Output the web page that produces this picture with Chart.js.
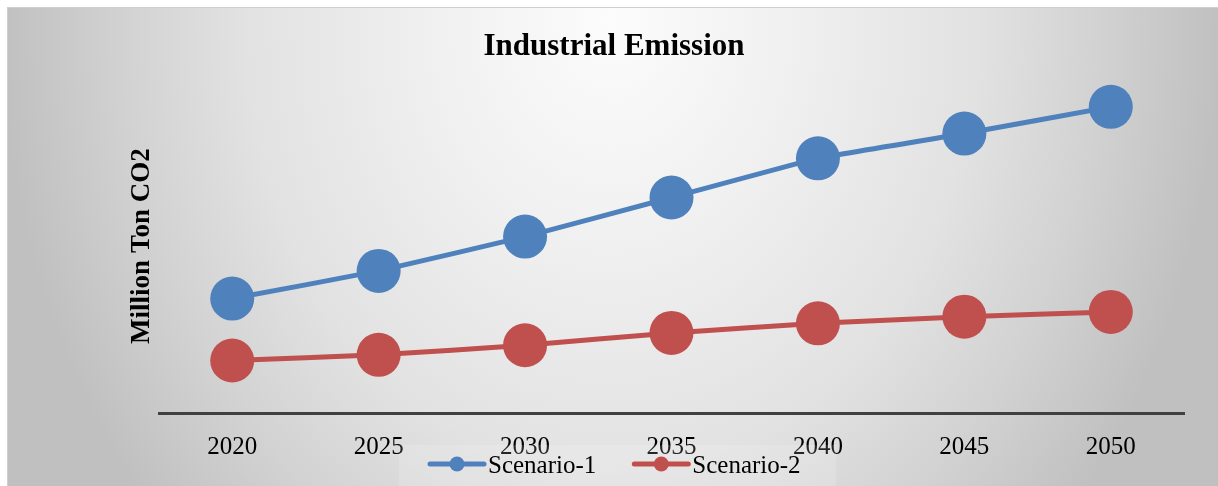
<!DOCTYPE html>
<html>
<head>
<meta charset="utf-8">
<script src="https://cdn.jsdelivr.net/npm/chart.js@4.4.1/dist/chart.umd.min.js"></script>
<style>
  html, body { margin: 0; padding: 0; background: #ffffff; width: 1218px; height: 486px; overflow: hidden; }
  #box {
    position: absolute; left: 7px; top: 7px; width: 1211px; height: 479px;
    border-top: 1px solid #cfcfcf; border-left: 1px solid #cfcfcf; box-sizing: border-box;
    background: radial-gradient(ellipse 610px 750px at 603px 13px, #fcfcfc 0%, #f0f0f0 30%, #e2e2e2 60%, #d2d2d2 80%, #c0c0c0 100%);
  }
  #c { position: absolute; left: -1px; top: -1px; }
</style>
</head>
<body>
<div id="box"><canvas id="c" width="1211" height="479"></canvas></div>
<script>
const categories = ['2020', '2025', '2030', '2035', '2040', '2045', '2050'];
const scenario1 = [120, 149, 185, 226, 267, 293, 321];
const scenario2 = [55, 61, 71, 84, 94, 101, 106];
const seriesNames = ['Scenario-1', 'Scenario-2'];
const seriesColors = ['#4F81BD', '#C0504D'];
const chartTitle = 'Industrial Emission';
const yTitle = 'Million Ton CO2';

const SERIF = '"Liberation Serif", "Times New Roman", serif';

const legendPlugin = {
  id: 'customLegend',
  afterDraw(chart) {
    const ctx = chart.ctx;
    ctx.save();
    ctx.fillStyle = 'rgba(255,255,255,0.15)';
    ctx.fillRect(392, 438, 437, 50);
    ctx.font = '25px ' + SERIF;
    ctx.textBaseline = 'alphabetic';
    ctx.textAlign = 'left';
    let x = 423;
    const y = 457;
    chart.data.datasets.forEach((ds) => {
      ctx.strokeStyle = ds.borderColor;
      ctx.lineWidth = 5;
      ctx.lineCap = 'round';
      ctx.beginPath();
      ctx.moveTo(x, y);
      ctx.lineTo(x + 54, y);
      ctx.stroke();
      ctx.fillStyle = ds.borderColor;
      ctx.beginPath();
      ctx.arc(x + 27, y, 7.5, 0, Math.PI * 2);
      ctx.fill();
      ctx.fillStyle = '#000';
      ctx.fillText(ds.label, x + 58, 465.5);
      x += 58 + ctx.measureText(ds.label).width + 38;
    });
    ctx.restore();
  }
};

new Chart(document.getElementById('c'), {
  type: 'line',
  data: {
    labels: categories,
    datasets: [
      {
        label: seriesNames[0], data: scenario1,
        borderColor: seriesColors[0], backgroundColor: seriesColors[0],
        pointBackgroundColor: seriesColors[0], pointBorderWidth: 0,
        pointRadius: 22, pointHoverRadius: 22, borderWidth: 5, tension: 0.1, clip: false
      },
      {
        label: seriesNames[1], data: scenario2,
        borderColor: seriesColors[1], backgroundColor: seriesColors[1],
        pointBackgroundColor: seriesColors[1], pointBorderWidth: 0,
        pointRadius: 22, pointHoverRadius: 22, borderWidth: 5, tension: 0.1, clip: false
      }
    ]
  },
  options: {
    responsive: false,
    devicePixelRatio: 1,
    animation: false,
    events: [],
    layout: { autoPadding: false, padding: { left: 37, right: 34, top: 0, bottom: 5 } },
    plugins: {
      legend: { display: false },
      tooltip: { enabled: false },
      title: {
        display: true, text: chartTitle, color: '#000',
        font: { family: SERIF, size: 31, weight: 'bold' },
        padding: { top: 21, bottom: 14 }
      }
    },
    scales: {
      x: {
        offset: true,
        grid: { display: false, drawTicks: false },
        border: { display: true, color: '#404040', width: 3 },
        ticks: { color: '#000', font: { family: SERIF, size: 25 }, padding: 19, maxRotation: 0, autoSkip: false }
      },
      y: {
        min: 0, max: 350,
        grid: { display: false, drawTicks: false },
        border: { display: false },
        ticks: { display: false },
        title: {
          display: true, text: yTitle, color: '#000',
          font: { family: SERIF, size: 27, weight: 'bold' },
          padding: { top: 81.8, bottom: 0.8 }
        }
      }
    }
  },
  plugins: [legendPlugin]
});
</script>
</body>
</html>
